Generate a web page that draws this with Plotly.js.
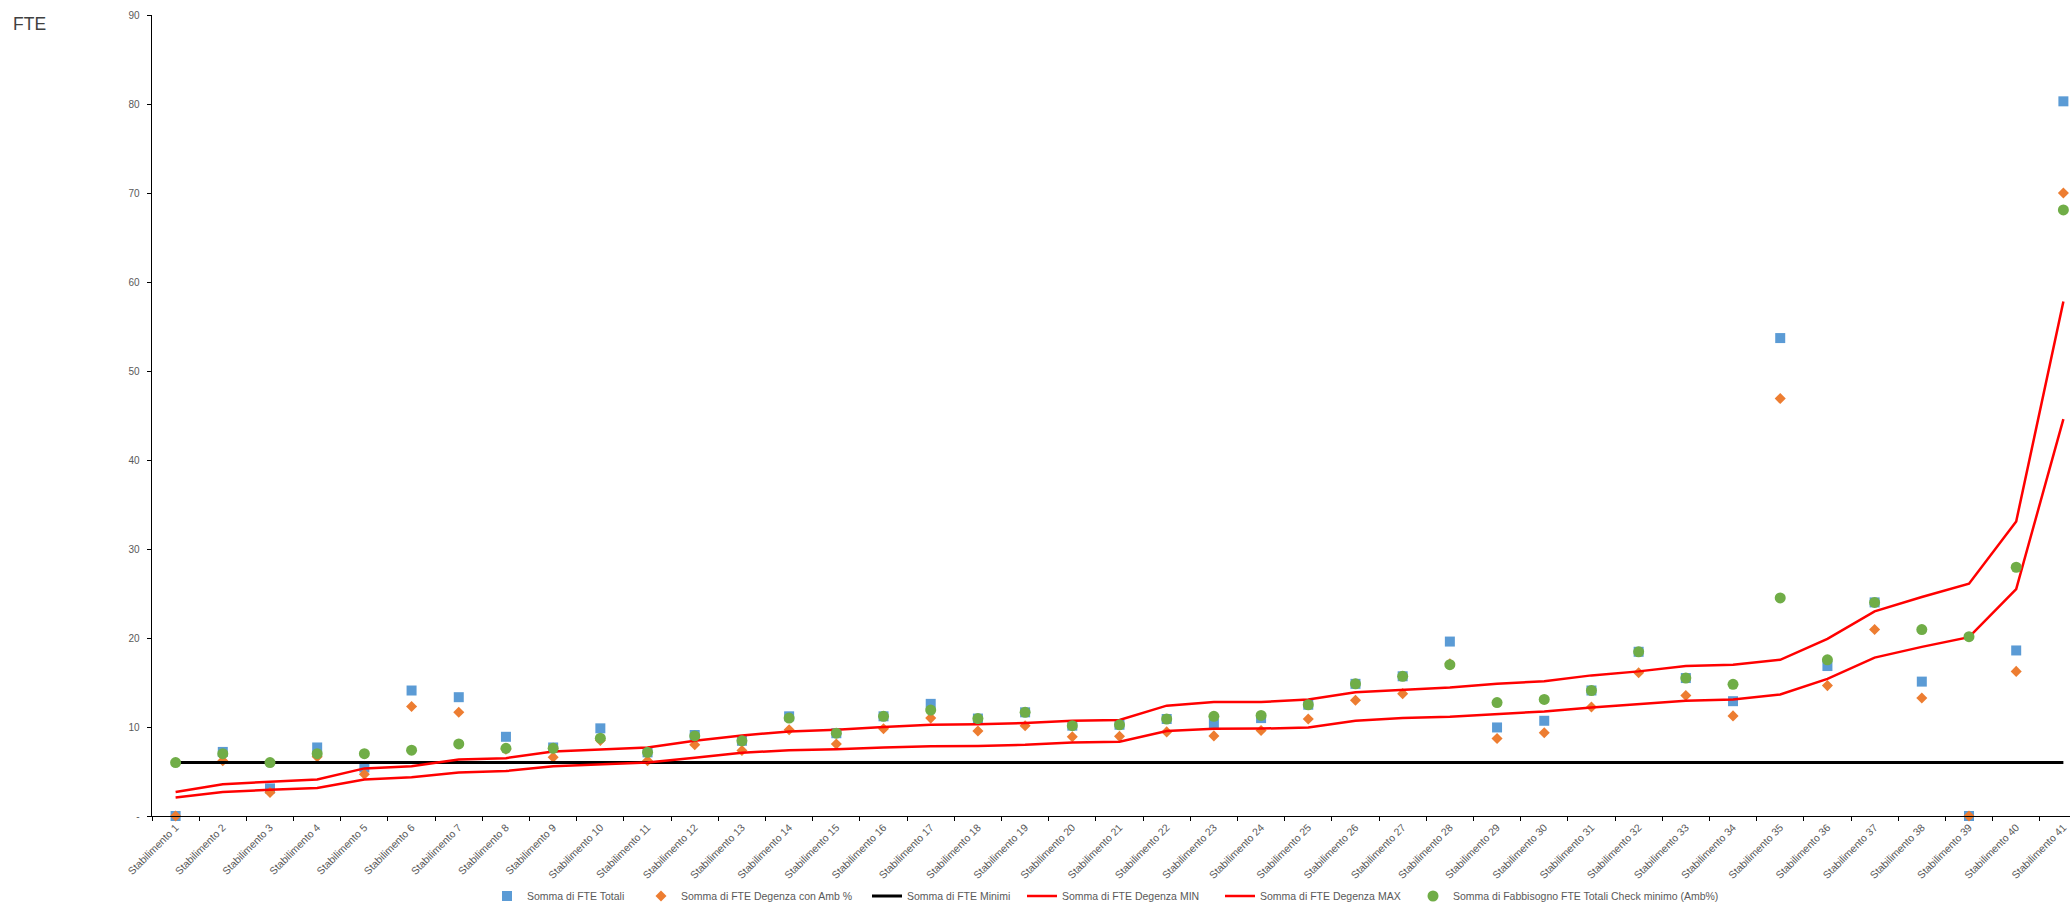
<!DOCTYPE html>
<html>
<head>
<meta charset="utf-8">
<script src="https://cdn.plot.ly/plotly-3.0.1.min.js"></script>
<style>html,body{margin:0;padding:0;background:#fff;}#chart{width:2070px;height:903px;}</style>
</head>
<body>
<div id="chart"></div>
<script>
const categories = ["Stabilimento 1","Stabilimento 2","Stabilimento 3","Stabilimento 4","Stabilimento 5","Stabilimento 6","Stabilimento 7","Stabilimento 8","Stabilimento 9","Stabilimento 10","Stabilimento 11","Stabilimento 12","Stabilimento 13","Stabilimento 14","Stabilimento 15","Stabilimento 16","Stabilimento 17","Stabilimento 18","Stabilimento 19","Stabilimento 20","Stabilimento 21","Stabilimento 22","Stabilimento 23","Stabilimento 24","Stabilimento 25","Stabilimento 26","Stabilimento 27","Stabilimento 28","Stabilimento 29","Stabilimento 30","Stabilimento 31","Stabilimento 32","Stabilimento 33","Stabilimento 34","Stabilimento 35","Stabilimento 36","Stabilimento 37","Stabilimento 38","Stabilimento 39","Stabilimento 40","Stabilimento 41"];

const fteTotali = [0,7.2,3.1,7.7,5.45,14.1,13.35,8.9,7.7,9.85,7.15,9.1,8.45,11.2,9.3,11.2,12.6,10.95,11.65,10.15,10.25,10.9,10.4,11.0,12.5,14.85,15.7,19.6,9.95,10.7,14.1,18.45,15.5,12.9,53.7,16.85,24.0,15.1,0,18.6,80.3];

const fteDegenzaAmb = [0,6.2,2.65,6.65,4.7,12.3,11.65,7.5,6.6,8.5,6.2,8.0,7.35,9.7,8.1,9.8,11.0,9.55,10.15,8.9,8.95,9.45,9.0,9.6,10.9,13.0,13.75,17.1,8.7,9.35,12.25,16.1,13.55,11.25,46.9,14.65,20.95,13.25,0,16.25,70.0];

const fteMinimi = [6,6,6,6,6,6,6,6,6,6,6,6,6,6,6,6,6,6,6,6,6,6,6,6,6,6,6,6,6,6,6,6,6,6,6,6,6,6,6,6,6];

const fteDegenzaMin = [2.07,2.7,2.95,3.15,4.1,4.35,4.9,5.05,5.6,5.8,6.0,6.55,7.1,7.4,7.5,7.7,7.85,7.87,8.0,8.25,8.35,9.55,9.8,9.82,9.95,10.7,11.0,11.15,11.45,11.75,12.2,12.6,12.95,13.1,13.65,15.4,17.8,19.0,20.1,25.5,44.6];

const fteDegenzaMax = [2.7,3.57,3.85,4.1,5.35,5.6,6.35,6.5,7.25,7.5,7.7,8.45,9.05,9.5,9.7,10.0,10.25,10.3,10.45,10.7,10.8,12.4,12.8,12.8,13.1,13.9,14.2,14.45,14.85,15.15,15.8,16.25,16.85,17.0,17.55,19.9,23.0,24.6,26.1,33.1,57.8];

const fabbisogno = [6.0,7.0,6.0,7.0,7.0,7.4,8.1,7.6,7.6,8.75,7.15,9.0,8.45,11.0,9.3,11.2,11.9,10.95,11.65,10.15,10.25,10.9,11.2,11.3,12.5,14.85,15.7,17.0,12.75,13.1,14.1,18.45,15.5,14.8,24.5,17.55,24.0,20.95,20.15,27.95,68.1];

const yTickVals = [0,10,20,30,40,50,60,70,80,90];
const yTickText = ["-","10","20","30","40","50","60","70","80","90"];

const FONT = "Liberation Sans, Arial, sans-serif";
const GREY = "#595959";

const PLOT_L = 152, PLOT_W = 2070 - 152;
const LEG_Y = (816 - 896) / 801;
function legendAt(px) {
  return {x: (px - PLOT_L) / PLOT_W, xanchor: "left", y: LEG_Y, yanchor: "middle",
          orientation: "h", bgcolor: "rgba(0,0,0,0)", borderwidth: 0, itemwidth: 30,
          font: {family: FONT, size: 10.5, color: GREY}};
}

const traces = [
  {x: categories, y: fteTotali, name: "Somma di FTE Totali", type: "scatter", mode: "markers", cliponaxis: false,
   legend: "legend", marker: {symbol: "square", size: 10, color: "#5B9BD5"}},
  {x: categories, y: fteDegenzaAmb, name: "Somma di FTE Degenza con Amb %", type: "scatter", mode: "markers", cliponaxis: false,
   legend: "legend2", marker: {symbol: "diamond", size: 8.5, color: "#ED7D31"}},
  {x: categories, y: fteMinimi, name: "Somma di FTE Minimi", type: "scatter", mode: "lines",
   legend: "legend3", line: {color: "#000000", width: 3}},
  {x: categories, y: fteDegenzaMin, name: "Somma di FTE Degenza MIN", type: "scatter", mode: "lines",
   legend: "legend4", line: {color: "#FF0000", width: 2.5}},
  {x: categories, y: fteDegenzaMax, name: "Somma di FTE Degenza MAX", type: "scatter", mode: "lines",
   legend: "legend5", line: {color: "#FF0000", width: 2.5}},
  {x: categories, y: fabbisogno, name: "Somma di Fabbisogno FTE Totali Check minimo (Amb%)", type: "scatter", mode: "markers", cliponaxis: false,
   legend: "legend6", marker: {symbol: "circle", size: 11, color: "#70AD47"}}
];

const layout = {
  width: 2070, height: 903,
  margin: {l: 152, r: 0, t: 15, b: 87, pad: 0, autoexpand: false},
  paper_bgcolor: "#ffffff", plot_bgcolor: "#ffffff",
  font: {family: FONT, color: GREY, size: 10},
  title: {text: "FTE", xref: "container", yref: "container", x: 13/2070, xanchor: "left", y: 1 - 24/903, yanchor: "middle",
          font: {family: FONT, size: 17.5, color: "#404040"}},
  showlegend: true,
  legend: legendAt(487),
  legend2: legendAt(641),
  legend3: legendAt(867),
  legend4: legendAt(1022),
  legend5: legendAt(1220),
  legend6: legendAt(1413),
  xaxis: {type: "category", range: [-0.5, 40.14], tickson: "boundaries", ticks: "outside", ticklen: 4,
          tickcolor: "#000", tickwidth: 1, showline: true, linecolor: "#000", linewidth: 1.3,
          tickangle: -45, tickfont: {family: FONT, size: 10.5, color: GREY}, showgrid: false, zeroline: false,
          automargin: false, fixedrange: true},
  yaxis: {range: [0, 90], tickvals: yTickVals, ticktext: yTickText, ticks: "outside", ticklen: 4,
          tickcolor: "#000", tickwidth: 1, showline: true, linecolor: "#000", linewidth: 1.3,
          ticklabelstandoff: 5,
          tickfont: {family: FONT, size: 10, color: GREY}, showgrid: false, zeroline: false,
          automargin: false, fixedrange: true}
};

Plotly.newPlot("chart", traces, layout, {displayModeBar: false, staticPlot: true});
</script>
</body>
</html>
